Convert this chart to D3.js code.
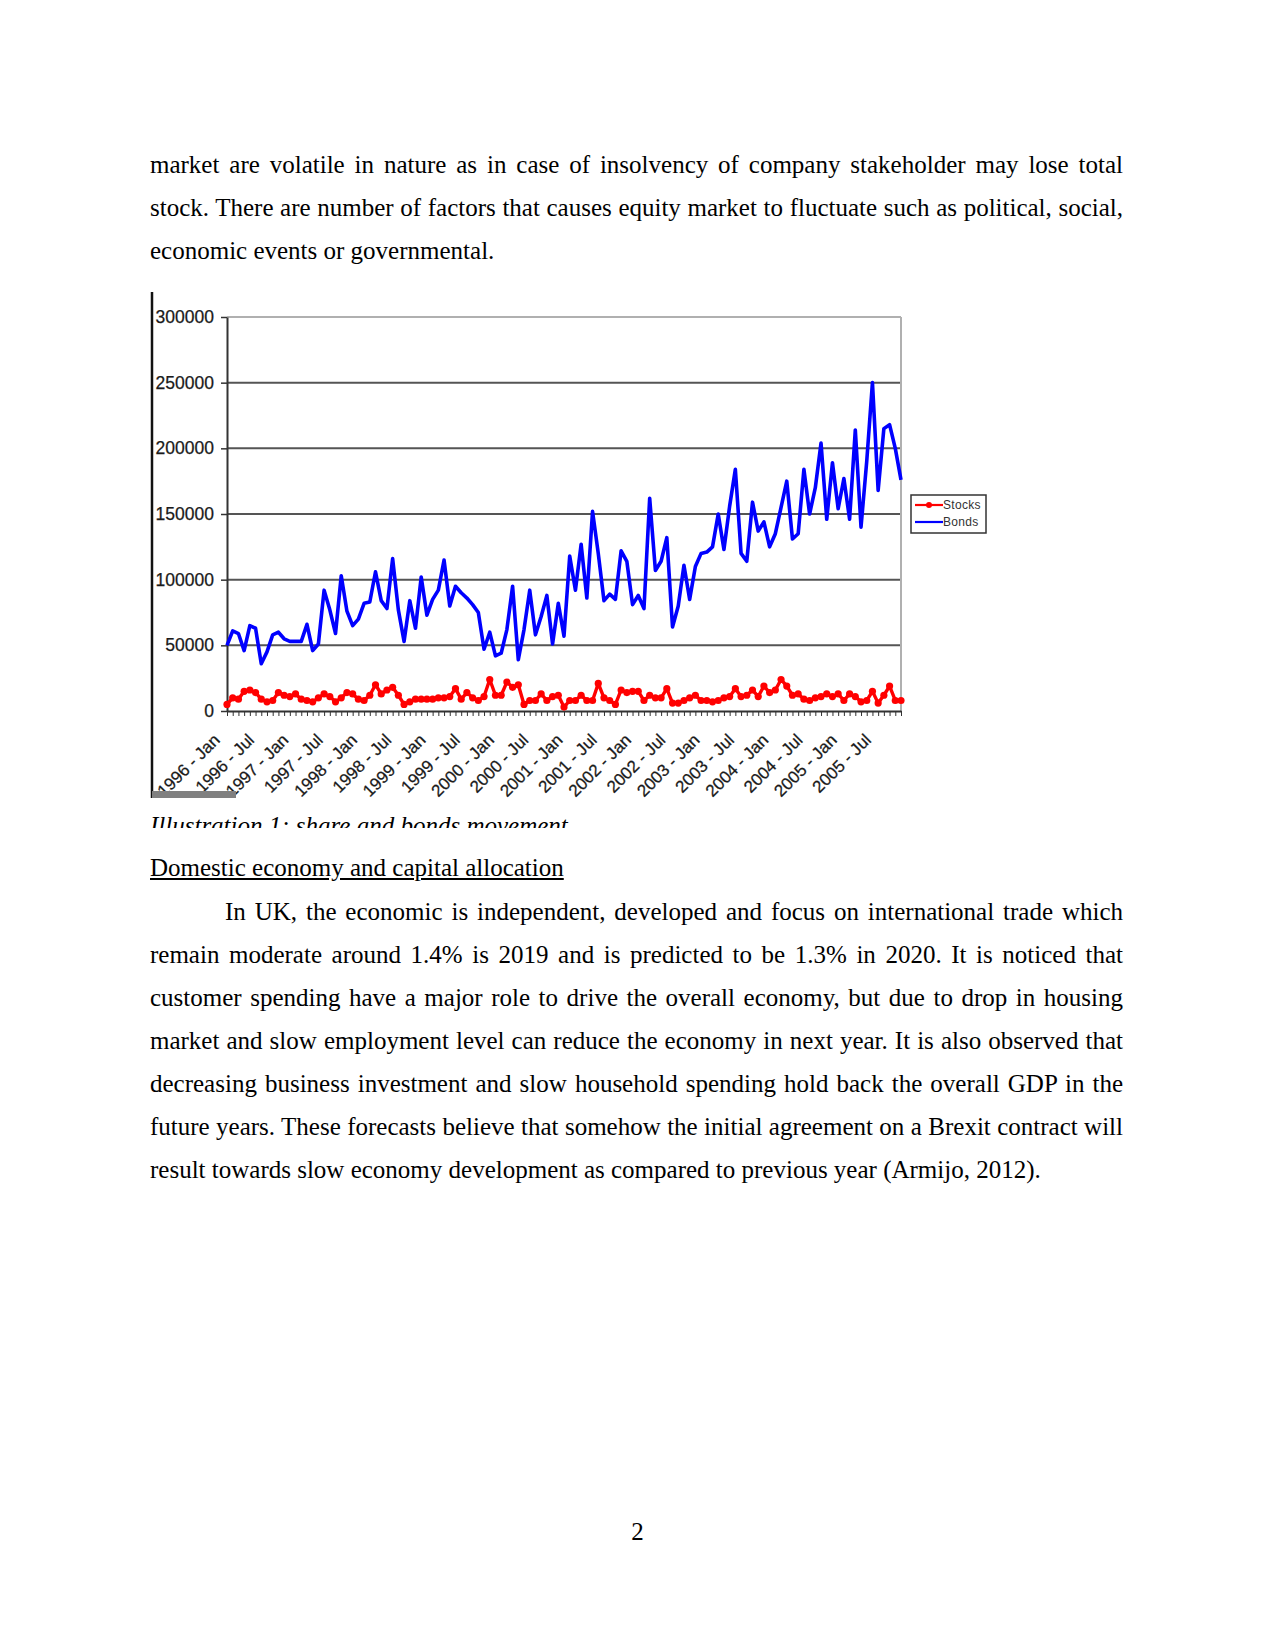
<!DOCTYPE html>
<html>
<head>
<meta charset="utf-8">
<script src="https://cdn.jsdelivr.net/npm/d3@7/dist/d3.min.js"></script>
<style>
  html, body { margin: 0; padding: 0; background: #fff; }
  body { width: 1275px; height: 1651px; position: relative; overflow: hidden; }
  .txt { position: absolute; left: 150px; width: 973px; font-family: "Liberation Serif", "Times New Roman", serif;
         font-size: 25px; line-height: 43px; color: #000; white-space: nowrap; }
  .just { text-align: justify; text-align-last: justify; white-space: normal; }
  #chart { position: absolute; left: 0; top: 0; }
  .clip { position: absolute; left: 150px; overflow: hidden; }
</style>
</head>
<body>
<div id="page"></div>
<svg id="chart" width="1275" height="830"></svg>
<script>
// ---------- data ----------
const years = [1996, 1997, 1998, 1999, 2000, 2001, 2002, 2003, 2004, 2005];
const monthNames = ["Jan","Feb","Mar","Apr","May","Jun","Jul","Aug","Sep","Oct","Nov","Dec"];
const categories = years.flatMap(y => monthNames.map(m => y + " - " + m)).slice(0, 119);

const tickLabels = ["1996 - Jan","1996 - Jul","1997 - Jan","1997 - Jul","1998 - Jan","1998 - Jul",
  "1999 - Jan","1999 - Jul","2000 - Jan","2000 - Jul","2001 - Jan","2001 - Jul","2002 - Jan","2002 - Jul",
  "2003 - Jan","2003 - Jul","2004 - Jan","2004 - Jul","2005 - Jan","2005 - Jul"];

const yTicks = [0, 50000, 100000, 150000, 200000, 250000, 300000];

// values in thousands
const stocks = [5,10,9,15,16,14,9,7,8,14,12,11,13,9,8,7,10,13,11,7,
  10,14,13,9,8,12,20,13,16,18,12,5,7,9,9,9,9,10,10,11,
  17,9,14,10,8,11,24,12,12,22,18,20,5,8,8,13,8,11,12,3,
  8,8,12,8,8,21,10,8,5,16,14,15,15,8,12,10,10,17,6,6,
  8,10,12,8,8,7,8,10,11,17,11,12,16,11,19,14,16,24,19,12,
  13,9,8,10,11,13,11,13,8,13,11,7,8,15,6,12,19,8,8];

const bonds = [50,61,59,46,65,63,36,45,58,60,55,53,53,53,66,46,51,92,77,59,
  103,76,65,70,82,83,106,84,78,116,77,53,84,63,102,73,85,92,115,80,
  95,90,86,81,75,47,60,42,44,62,95,39,62,92,58,72,88,51,82,57,
  118,92,127,86,152,120,84,89,85,122,114,81,88,78,162,107,114,132,64,80,
  111,85,110,120,121,125,150,123,156,184,120,114,159,137,144,125,135,155,175,131,
  135,184,150,170,204,146,189,154,177,146,214,140,190,250,168,215,218,200,176];

const seriesNames = ["Stocks", "Bonds"];
const seriesColors = ["#ff0000", "#0000ff"];

// ---------- page text ----------
const para1 = [
  "market are volatile in nature as in case of insolvency of company stakeholder may lose total",
  "stock. There are number of factors that causes equity market to fluctuate such as political, social,",
  "economic events or governmental."
];
const caption = "Illustration 1: share and bonds movement";
const heading = "Domestic economy and capital allocation";
const para2 = [
  "In UK, the economic is independent, developed and focus on international trade which",
  "remain moderate around 1.4% is 2019 and is predicted to be 1.3% in 2020. It is noticed that",
  "customer spending have a major role to drive the overall economy, but due to drop in housing",
  "market and slow employment level can reduce the economy in next year. It is also observed that",
  "decreasing business investment and slow household spending hold back the overall GDP in the",
  "future years. These forecasts believe that somehow the initial agreement on a Brexit contract will",
  "result towards slow economy development as compared to previous year (Armijo, 2012)."
];
const pageNumber = "2";

const page = d3.select("#page");
function addLines(lines, top, indentFirst) {
  lines.forEach((t, i) => {
    const last = i === lines.length - 1;
    const d = page.append("div").attr("class", "txt" + (last ? "" : " just"))
      .style("top", (top + i * 43) + "px").text(t);
    if (i === 0 && indentFirst) d.style("left", (150 + indentFirst) + "px").style("width", (973 - indentFirst) + "px");
  });
}
addLines(para1, 143, 0);
page.append("div").attr("class", "txt").style("top", "846px").style("text-decoration", "underline").text(heading);
addLines(para2, 890, 75);
page.append("div").attr("class", "txt").style("top", "1510px").style("left", "0px").style("width", "1275px")
  .style("text-align", "center").text(pageNumber);
// caption (partly hidden under the picture frame, as in the original page)
page.append("div").attr("class", "clip").style("top", "800px").style("width", "600px").style("height", "28px")
  .append("div").attr("class", "txt").style("left", "0px").style("top", "4px").style("font-style", "italic").text(caption);

// ---------- chart ----------
const svg = d3.select("#chart");
const L = 227, R = 901, T = 317, B = 711;
const x = d3.scalePoint().domain(categories).range([L, R]);
const y = d3.scaleLinear().domain([0, 300000]).range([B, T]);
const axisFont = "Liberation Sans, Arial, sans-serif";

// gridlines
svg.append("g").selectAll("line").data(yTicks.filter(v => v > 0)).join("line")
  .attr("x1", L).attr("x2", R).attr("y1", d => y(d)).attr("y2", d => y(d))
  .attr("stroke", d => d === 300000 ? "#b0b0b0" : "#555").attr("stroke-width", 2);
// right border
svg.append("line").attr("x1", R).attr("x2", R).attr("y1", T).attr("y2", B)
  .attr("stroke", "#b0b0b0").attr("stroke-width", 2);

// y axis
const yAxis = svg.append("g").attr("transform", `translate(${L},0)`)
  .call(d3.axisLeft(y).tickValues(yTicks).tickSize(6).tickSizeOuter(0).tickPadding(7).tickFormat(d => String(d)));
yAxis.select(".domain").attr("stroke", "#333").attr("stroke-width", 2);
yAxis.selectAll(".tick line").attr("stroke", "#333").attr("stroke-width", 1.5);
yAxis.selectAll(".tick text").attr("font-family", axisFont).attr("font-size", 17.5)
  .attr("fill", "#1a1a1a").attr("stroke", "#1a1a1a").attr("stroke-width", 0.25);

// x axis
const xAxis = svg.append("g").attr("transform", `translate(0,${B})`)
  .call(d3.axisBottom(x).tickSize(5).tickSizeOuter(0).tickFormat(""));
xAxis.select(".domain").attr("stroke", "#333").attr("stroke-width", 2);
xAxis.selectAll(".tick line").attr("stroke", "#333").attr("stroke-width", 1);

svg.append("g").selectAll("text").data(tickLabels).join("text")
  .attr("transform", d => `translate(${x(d) - 6},741) rotate(-45)`)
  .attr("text-anchor", "end")
  .attr("font-family", axisFont).attr("font-size", 17).attr("fill", "#1a1a1a")
  .attr("stroke", "#1a1a1a").attr("stroke-width", 0.25)
  .text(d => d);

// lines
const line = d3.line().x((d, i) => x(categories[i])).y(d => y(d * 1000));
svg.append("path").datum(bonds).attr("d", line).attr("fill", "none")
  .attr("stroke", seriesColors[1]).attr("stroke-width", 3.6).attr("stroke-linejoin", "round");
svg.append("path").datum(stocks).attr("d", line).attr("fill", "none")
  .attr("stroke", seriesColors[0]).attr("stroke-width", 3.4).attr("stroke-linejoin", "round");
svg.append("g").selectAll("circle").data(stocks).join("circle")
  .attr("cx", (d, i) => x(categories[i])).attr("cy", d => y(d * 1000)).attr("r", 3.6)
  .attr("fill", seriesColors[0]);

// image frame artifacts (drawn on top, like the picture's edge)
svg.append("rect").attr("x", 0).attr("y", 280).attr("width", 151).attr("height", 530).attr("fill", "#fff");
svg.append("line").attr("x1", 152).attr("x2", 152).attr("y1", 292).attr("y2", 798)
  .attr("stroke", "#111").attr("stroke-width", 2.5);
svg.append("rect").attr("x", 152).attr("y", 791).attr("width", 84).attr("height", 7).attr("fill", "#808080");

// legend
const lg = svg.append("g");
lg.append("rect").attr("x", 911).attr("y", 495).attr("width", 75).attr("height", 38)
  .attr("fill", "#fff").attr("stroke", "#333").attr("stroke-width", 1.5);
seriesNames.forEach((n, i) => {
  const yy = 505 + i * 17;
  lg.append("line").attr("x1", 915).attr("x2", 943).attr("y1", yy).attr("y2", yy)
    .attr("stroke", seriesColors[i]).attr("stroke-width", 2.2);
  if (i === 0) lg.append("circle").attr("cx", 929).attr("cy", yy).attr("r", 3).attr("fill", seriesColors[i]);
  lg.append("text").attr("x", 943).attr("y", yy + 4).attr("font-family", axisFont)
    .attr("font-size", 12).attr("letter-spacing", 0.3).attr("fill", "#333").text(n);
});
</script>
</body>
</html>
